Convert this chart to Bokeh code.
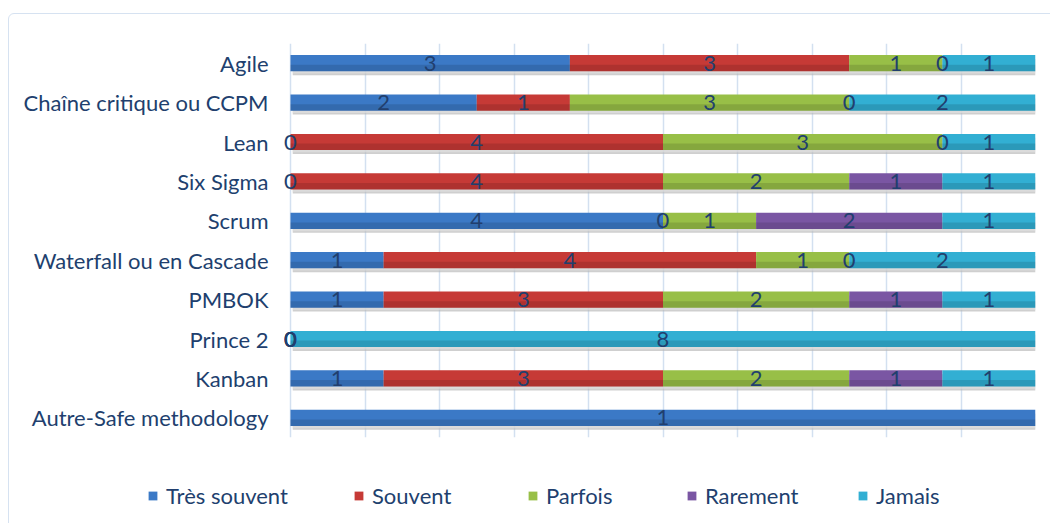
from bokeh.plotting import figure
from bokeh.layouts import column
from bokeh.models import (ColumnDataSource, FactorRange, Range1d, FixedTicker, Legend, LegendItem,
                          InlineStyleSheet)
from bokeh.transform import dodge
from bokeh.core.properties import value
from bokeh.embed import file_html
from bokeh.resources import INLINE

categories = ["Agile", "Chaîne critique ou CCPM", "Lean", "Six Sigma", "Scrum",
              "Waterfall ou en Cascade", "PMBOK", "Prince 2", "Kanban", "Autre-Safe methodology"]
series = ["Très souvent", "Souvent", "Parfois", "Rarement", "Jamais"]
tres_souvent = [3, 2, 0, 0, 4, 1, 1, 0, 1, 1]
souvent      = [3, 1, 4, 4, 0, 4, 3, 0, 3, None]
parfois      = [1, 3, 3, 2, 1, 1, 2, 0, 2, None]
rarement     = [0, 0, 0, 1, 2, 0, 1, 0, 1, None]
jamais       = [1, 2, 1, 1, 1, 2, 1, 8, 1, None]
colors = ["#3B79C6", "#C63A36", "#98BF47", "#7A56A3", "#32AFD3"]

values = [tres_souvent, souvent, parfois, rarement, jamais]
totals = [sum(v[i] or 0 for v in values) for i in range(len(categories))]

FONT = "Lato"
TXT = "#213F6E"

p = figure(width=1050, height=470, y_range=FactorRange(*reversed(categories), range_padding=0),
           x_range=Range1d(-12 / 745, 1.0), output_backend="svg", toolbar_location=None,
           min_border_left=278, min_border_right=15, min_border_top=43, min_border_bottom=33)
p.frame_align = False
p.outline_line_color = None
p.border_fill_alpha = 0
p.xaxis.visible = False

p.yaxis.axis_line_color = None
p.yaxis.major_tick_line_color = None
p.yaxis.minor_tick_line_color = None
p.yaxis.major_tick_in = 0
p.yaxis.major_tick_out = 0
p.yaxis.major_label_standoff = 10
p.yaxis.major_label_text_font = FONT
p.yaxis.major_label_text_font_size = "22px"
p.yaxis.major_label_text_color = TXT
p.ygrid.grid_line_color = None
p.xgrid.ticker = FixedTicker(ticks=[i / 10 for i in range(11)])
p.xgrid.grid_line_color = "#D3E0F0"
p.xgrid.grid_line_width = 1.5

H = 0.41
data = {"cat": categories}
for s, v in zip(series, values):
    data[s] = [(x or 0) / t for x, t in zip(v, totals)]
src = ColumnDataSource(data)

# shadows
p.hbar(y=dodge("cat", -0.1, range=p.y_range), left=0.003, right=1.0, height=H,
       source=ColumnDataSource(dict(cat=categories)), fill_color="#B5B5B5", line_color=None, alpha=0.65)
p.hbar(y=dodge("cat", -0.16, range=p.y_range), left=0.003, right=1.0, height=H * 0.5,
       source=ColumnDataSource(dict(cat=categories)), fill_color="#E2E2E2", line_color=None, alpha=0.6)

renderers = p.hbar_stack(series, y="cat", height=H, color=colors, source=src, line_color=None)

# darker lower band for gradient look
lefts, rights, ys = [], [], []
for i, c in enumerate(categories):
    acc = 0.0
    for s, v in zip(series, values):
        if v[i]:
            w = v[i] / totals[i]
            lefts.append(acc); rights.append(acc + w); ys.append(c)
            acc += w
p.hbar(y=dodge("y", -H * 0.3, range=p.y_range), left="l", right="r", height=H * 0.4,
       source=ColumnDataSource(dict(y=ys, l=lefts, r=rights)),
       fill_color="black", fill_alpha=0.12, line_color=None)

# data labels
lx, ly, lt = [], [], []
for i, c in enumerate(categories):
    acc = 0.0
    for s, v in zip(series, values):
        if v[i] is None:
            continue
        w = v[i] / totals[i]
        lx.append(acc + w / 2); ly.append(c); lt.append(str(v[i]))
        acc += w
p.text(x="x", y="y", text="t", source=ColumnDataSource(dict(x=lx, y=ly, t=lt)),
       text_align="center", text_baseline="middle", text_font=value(FONT),
       text_font_size="22px", text_color=TXT)

# legend strip
p2 = figure(width=1050, height=53, x_range=Range1d(0, 1), y_range=Range1d(0, 1),
            output_backend="svg", toolbar_location=None,
            min_border_left=0, min_border_right=0, min_border_top=0, min_border_bottom=0)
p2.frame_align = False
p2.axis.visible = False
p2.grid.visible = False
p2.outline_line_color = None
p2.border_fill_alpha = 0
p2.background_fill_alpha = 0
legend_x = [147, 353, 527, 686, 857]
for s, c, lxp in zip(series, colors, legend_x):
    r = p2.hbar(y=[-5], left=[0], right=[0.1], height=0.5, fill_color=c, line_color=None)
    lg = Legend(items=[LegendItem(label=s, renderers=[r])],
                orientation="horizontal", location=(lxp, 14),
                glyph_width=11, glyph_height=11, label_standoff=8,
                label_text_font=FONT, label_text_font_size="22px", label_text_color=TXT,
                border_line_color=None, background_fill_alpha=0, padding=0, margin=0)
    p2.add_layout(lg, "center")

layout = column(p, p2, spacing=0, stylesheets=[InlineStyleSheet(css=(
    ":host { position: relative; background: white; }"
    ":host::after { content: ''; position: absolute; left: 8px; top: 13px; width: 1100px; height: 600px;"
    " border: 1.5px solid #D6E2F1; border-radius: 6px; pointer-events: none; box-sizing: border-box; }"
))])

open("out.html", "w").write(file_html(layout, INLINE))
